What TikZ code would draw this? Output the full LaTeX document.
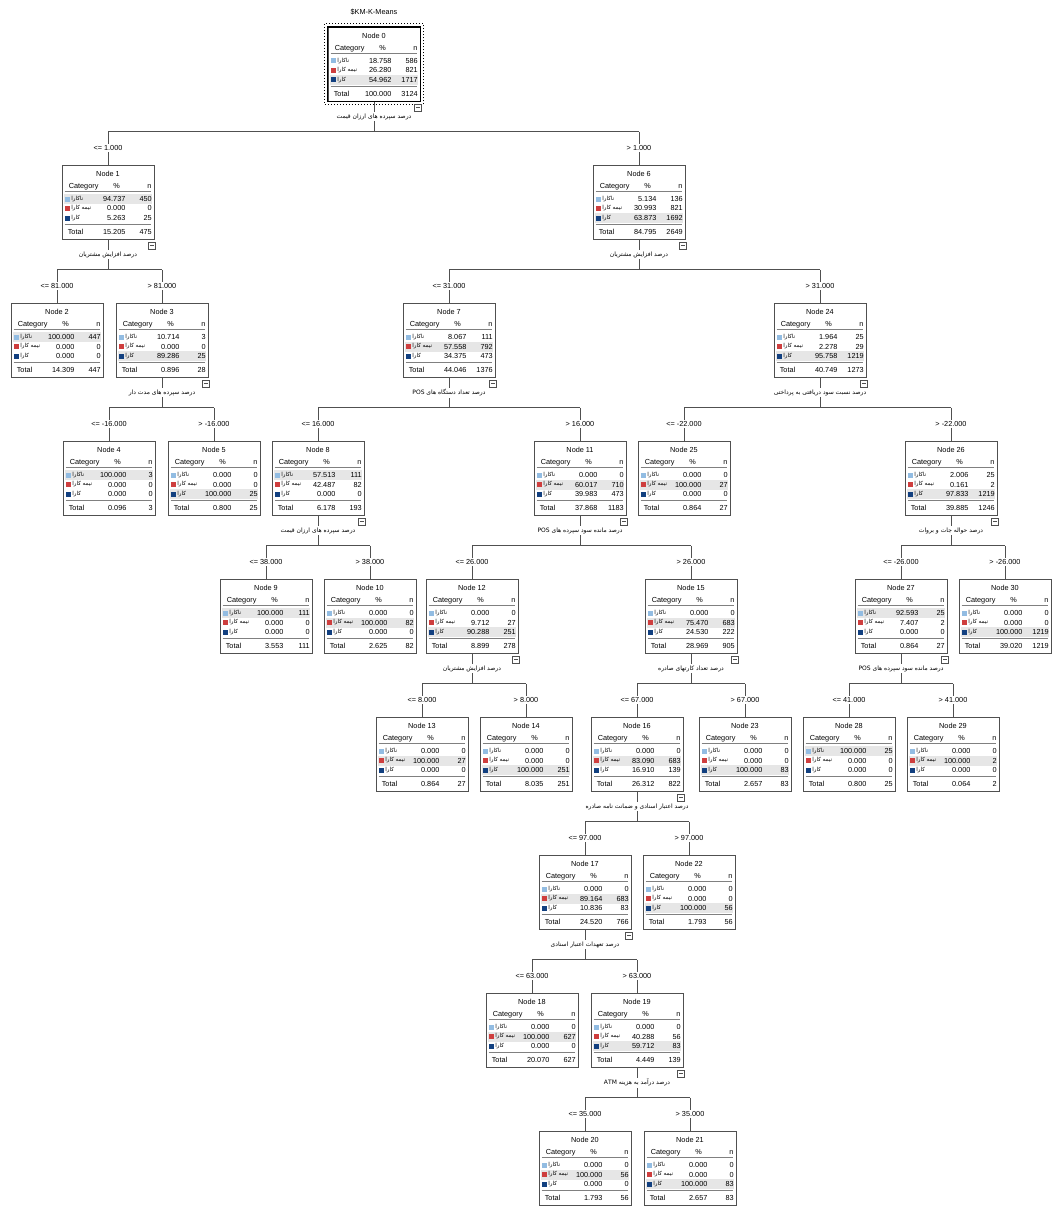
\documentclass[tikz,border=0pt]{standalone}
\usepackage{fontspec}
\setmainfont{Liberation Sans}
\newfontfamily\farsifont[Script=Arabic]{DejaVu Sans}
\TeXXeTstate=1
\usetikzlibrary{positioning, calc}
\definecolor{cat1}{RGB}{146,188,226}
\definecolor{cat2}{RGB}{206,62,62}
\definecolor{cat3}{RGB}{18,64,128}
\definecolor{RowGray}{RGB}{230,230,230}
\definecolor{LineGray}{RGB}{80,80,80}

\newcommand{\fa}[1]{{\farsifont #1}}
\newcommand{\catname}[1]{\ifcase#1\or\fa{\beginR ناکارا\endR}\or\fa{\beginR نیمه کارا\endR}\or\fa{\beginR کارا\endR}\fi}

% one SPSS node box: name, (x,top), number, rows p/n (last one is the total), highlighted row
\newcommand{\statbox}[5]{%
  \node[box, anchor=north] (#1) at (#2) {};
  \pgfmathsetmacro\hly{34+9.5*(#5-1)}
  \fill[RowGray] ([shift={(2,\hly-5)}]#1.north west) rectangle ([shift={(-2,\hly+5)}]#1.north east);
  \node[txt] at ([shift={(0,11.5)}]#1.north) {Node #3};
  \node[txt] at ([shift={(22,23.5)}]#1.north west) {Category};
  \node[txt] at ([shift={(55,23.5)}]#1.north west) {\%};
  \node[txt] at ([shift={(-5,23.5)}]#1.north east) {n};
  \draw[rule] ([shift={(3,26.5)}]#1.north west) -- ([shift={(-3,26.5)}]#1.north east);
  \draw[rule] ([shift={(3,59.5)}]#1.north west) -- ([shift={(-3,59.5)}]#1.north east);
  \foreach \pc/\nc [count=\i] in {#4} {
    \ifnum\i<4
      \pgfmathsetmacro\ry{34+9.5*(\i-1)}
      \fill[cat\i] ([shift={(3,\ry-2.5)}]#1.north west) rectangle ++(5,5);
      \node[catlbl] at ([shift={(9.5,\ry)}]#1.north west) {\catname{\i}};
      \node[num] at ([shift={(64,\ry+2.5)}]#1.north west) {\pc};
      \node[num] at ([shift={(-2.5,\ry+2.5)}]#1.north east) {\nc};
    \else
      \node[txt, anchor=base west] at ([shift={(6,69.5)}]#1.north west) {Total};
      \node[num] at ([shift={(64,69.5)}]#1.north west) {\pc};
      \node[num] at ([shift={(-2.5,69.5)}]#1.north east) {\nc};
    \fi
  }
}

% split of a parent into two children: parent, predictor, left, right, left cond, right cond
\newcommand{\branch}[6]{%
  \coordinate (#1bar) at ($(#1.south)+(0,30)$);
  \draw[link] (#1.south) -- node[splitlbl] (#1s) {\fa{#2}} (#1bar);
  \draw[link] (#3.north |- #1bar) -- (#4.north |- #1bar);
  \draw[link] (#3.north |- #1bar) -- node[cond] (#3c) {#5} (#3.north);
  \draw[link] (#4.north |- #1bar) -- node[cond] (#4c) {#6} (#4.north);
  \node[collapse, anchor=north east] (#1m) at ([shift={(1.5,2)}]#1.south east) {};
  \draw[LineGray, line width=0.6pt] ([xshift=1.5pt]#1m.west) -- ([xshift=-1.5pt]#1m.east);
}

\begin{document}
\begin{tikzpicture}[x=1pt, y=-1pt,
    box/.style={draw=LineGray, line width=0.8pt, fill=white, minimum width=92pt, minimum height=74pt, inner sep=0pt},
    txt/.style={font=\fontsize{7.3}{8}\selectfont, inner sep=0pt, anchor=base},
    num/.style={txt, anchor=base east},
    catlbl/.style={font=\fontsize{5.6}{6}\selectfont, inner sep=0pt, anchor=west},
    rule/.style={draw=gray, line width=0.9pt},
    link/.style={draw=LineGray, line width=0.7pt},
    splitlbl/.style={font=\fontsize{6}{7}\selectfont, fill=white, inner sep=1.5pt},
    cond/.style={font=\fontsize{7.3}{8}\selectfont, fill=white, inner sep=1.5pt},
    collapse/.style={draw=LineGray, line width=0.6pt, fill=white, minimum size=7pt, inner sep=0pt}]
  \useasboundingbox (0,0) rectangle (1057,1209);

  \node[txt, anchor=center] (title) at (374,12) {\$KM-K-Means};

  % level 0
  \statbox{n0}{374,27}{0}{18.758/586, 26.280/821, 54.962/1717, 100.000/3124}{3}
  \draw[dotted, line width=1pt] ([shift={(-3,-3)}]n0.north west) rectangle ([shift={(3,3)}]n0.south east);
  \draw[line width=1.2pt] (n0.north west) rectangle (n0.south east);

  % level 1
  \statbox{n1}{108,165}{1}{94.737/450, 0.000/0, 5.263/25, 15.205/475}{1}
  \statbox{n6}{639,165}{6}{5.134/136, 30.993/821, 63.873/1692, 84.795/2649}{3}

  % level 2
  \statbox{n2}{57,303}{2}{100.000/447, 0.000/0, 0.000/0, 14.309/447}{1}
  \statbox{n3}{162,303}{3}{10.714/3, 0.000/0, 89.286/25, 0.896/28}{3}
  \statbox{n7}{449,303}{7}{8.067/111, 57.558/792, 34.375/473, 44.046/1376}{2}
  \statbox{n24}{820,303}{24}{1.964/25, 2.278/29, 95.758/1219, 40.749/1273}{3}

  % level 3
  \statbox{n4}{109,441}{4}{100.000/3, 0.000/0, 0.000/0, 0.096/3}{1}
  \statbox{n5}{214,441}{5}{0.000/0, 0.000/0, 100.000/25, 0.800/25}{3}
  \statbox{n8}{318,441}{8}{57.513/111, 42.487/82, 0.000/0, 6.178/193}{1}
  \statbox{n11}{580,441}{11}{0.000/0, 60.017/710, 39.983/473, 37.868/1183}{2}
  \statbox{n25}{684,441}{25}{0.000/0, 100.000/27, 0.000/0, 0.864/27}{2}
  \statbox{n26}{951,441}{26}{2.006/25, 0.161/2, 97.833/1219, 39.885/1246}{3}

  % level 4
  \statbox{n9}{266,579}{9}{100.000/111, 0.000/0, 0.000/0, 3.553/111}{1}
  \statbox{n10}{370,579}{10}{0.000/0, 100.000/82, 0.000/0, 2.625/82}{2}
  \statbox{n12}{472,579}{12}{0.000/0, 9.712/27, 90.288/251, 8.899/278}{3}
  \statbox{n15}{691,579}{15}{0.000/0, 75.470/683, 24.530/222, 28.969/905}{2}
  \statbox{n27}{901,579}{27}{92.593/25, 7.407/2, 0.000/0, 0.864/27}{1}
  \statbox{n30}{1005,579}{30}{0.000/0, 0.000/0, 100.000/1219, 39.020/1219}{3}

  % level 5
  \statbox{n13}{422,717}{13}{0.000/0, 100.000/27, 0.000/0, 0.864/27}{2}
  \statbox{n14}{526,717}{14}{0.000/0, 0.000/0, 100.000/251, 8.035/251}{3}
  \statbox{n16}{637,717}{16}{0.000/0, 83.090/683, 16.910/139, 26.312/822}{2}
  \statbox{n23}{745,717}{23}{0.000/0, 0.000/0, 100.000/83, 2.657/83}{3}
  \statbox{n28}{849,717}{28}{100.000/25, 0.000/0, 0.000/0, 0.800/25}{1}
  \statbox{n29}{953,717}{29}{0.000/0, 100.000/2, 0.000/0, 0.064/2}{2}

  % level 6
  \statbox{n17}{585,855}{17}{0.000/0, 89.164/683, 10.836/83, 24.520/766}{2}
  \statbox{n22}{689,855}{22}{0.000/0, 0.000/0, 100.000/56, 1.793/56}{3}

  % level 7
  \statbox{n18}{532,993}{18}{0.000/0, 100.000/627, 0.000/0, 20.070/627}{2}
  \statbox{n19}{637,993}{19}{0.000/0, 40.288/56, 59.712/83, 4.449/139}{3}

  % level 8
  \statbox{n20}{585,1131}{20}{0.000/0, 100.000/56, 0.000/0, 1.793/56}{2}
  \statbox{n21}{690,1131}{21}{0.000/0, 0.000/0, 100.000/83, 2.657/83}{3}

  % splits
  \branch{n0}{\beginR درصد سپرده های ارزان قیمت\endR}{n1}{n6}{<= 1.000}{> 1.000}
  \branch{n1}{\beginR درصد افزایش مشتریان\endR}{n2}{n3}{<= 81.000}{> 81.000}
  \branch{n6}{\beginR درصد افزایش مشتریان\endR}{n7}{n24}{<= 31.000}{> 31.000}
  \branch{n3}{\beginR درصد سپرده های مدت دار\endR}{n4}{n5}{<= -16.000}{> -16.000}
  \branch{n7}{\beginR درصد تعداد دستگاه های \beginL POS\endL\endR}{n8}{n11}{<= 16.000}{> 16.000}
  \branch{n24}{\beginR درصد نسبت سود دریافتی به پرداختی\endR}{n25}{n26}{<= -22.000}{> -22.000}
  \branch{n8}{\beginR درصد سپرده های ارزان قیمت\endR}{n9}{n10}{<= 38.000}{> 38.000}
  \branch{n11}{\beginR درصد مانده سود سپرده های \beginL POS\endL\endR}{n12}{n15}{<= 26.000}{> 26.000}
  \branch{n26}{\beginR درصد حواله جات و بروات\endR}{n27}{n30}{<= -26.000}{> -26.000}
  \branch{n12}{\beginR درصد افزایش مشتریان\endR}{n13}{n14}{<= 8.000}{> 8.000}
  \branch{n15}{\beginR درصد تعداد کارتهای صادره\endR}{n16}{n23}{<= 67.000}{> 67.000}
  \branch{n27}{\beginR درصد مانده سود سپرده های \beginL POS\endL\endR}{n28}{n29}{<= 41.000}{> 41.000}
  \branch{n16}{\beginR درصد اعتبار اسنادی و ضمانت نامه صادره\endR}{n17}{n22}{<= 97.000}{> 97.000}
  \branch{n17}{\beginR درصد تعهدات اعتبار اسنادی\endR}{n18}{n19}{<= 63.000}{> 63.000}
  \branch{n19}{\beginR درصد درآمد به هزینه \beginL ATM\endL\endR}{n20}{n21}{<= 35.000}{> 35.000}
\end{tikzpicture}
\end{document}
